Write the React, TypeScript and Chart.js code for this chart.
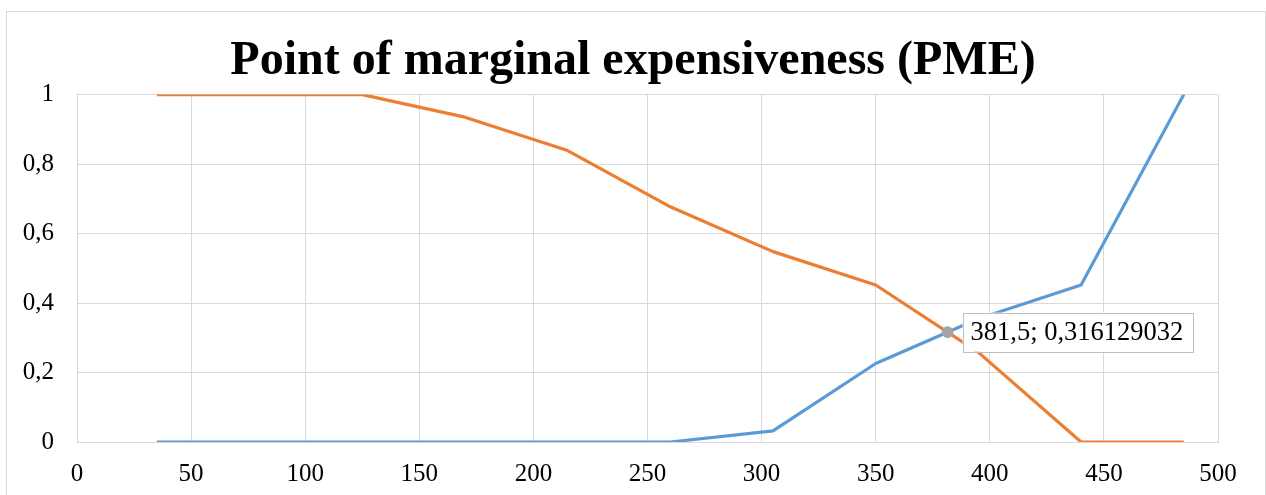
import React, { useEffect, useRef } from "react";
import { Chart, registerables } from "chart.js";

Chart.register(...registerables);

const TITLE = "Point of marginal expensiveness (PME)";
const X_VALUES = [35, 80, 125, 170, 215, 260, 305, 350, 395, 440, 485];
const ORANGE_VALUES = [1, 1, 1, 0.935, 0.839, 0.677, 0.548, 0.452, 0.258, 0, 0];
const BLUE_VALUES = [0, 0, 0, 0, 0, 0, 0.032, 0.226, 0.355, 0.452, 1];
const PME_X = 381.5;
const PME_Y = 0.316129032;
const X_TICKS = [0, 50, 100, 150, 200, 250, 300, 350, 400, 450, 500];
const Y_TICKS = [0, 0.2, 0.4, 0.6, 0.8, 1];

const FONT = '"Liberation Serif", "Times New Roman", serif';
const fmt = (v: number) => String(v).replace(".", ",");

const labelPlugin = {
  id: "pmeLabel",
  afterDatasetsDraw(chart: any) {
    const meta = chart.getDatasetMeta(0);
    const el = meta.data[0];
    if (!el) return;
    const ctx = chart.ctx;
    const text = `${fmt(PME_X)}; ${fmt(PME_Y)}`;
    ctx.save();
    ctx.font = `26.5px ${FONT}`;
    const w = ctx.measureText(text).width + 17;
    const h = 39;
    const bx = el.x + 15;
    const by = el.y - h / 2;
    ctx.fillStyle = "#ffffff";
    ctx.fillRect(bx, by, w, h);
    ctx.strokeStyle = "#BFBFBF";
    ctx.lineWidth = 1;
    ctx.strokeRect(Math.round(bx) + 0.5, Math.round(by) + 0.5, Math.round(w), Math.round(h));
    ctx.fillStyle = "#000000";
    ctx.textBaseline = "middle";
    ctx.textAlign = "left";
    ctx.fillText(text, bx + 8, el.y + 1);
    ctx.restore();
  },
};

export default function App() {
  const ref = useRef<HTMLCanvasElement>(null);
  useEffect(() => {
    if (!ref.current) return;
    const chart = new Chart(ref.current, {
      type: "line",
      data: {
        datasets: [
          {
            type: "scatter",
            label: "PME",
            data: [{ x: PME_X, y: PME_Y }],
            backgroundColor: "#A5A5A5",
            borderColor: "#A5A5A5",
            pointRadius: 5.5,
            showLine: false,
          },
          {
            label: "Too expensive (inverse)",
            data: X_VALUES.map((x, i) => ({ x, y: ORANGE_VALUES[i] })),
            borderColor: "#ED7D31",
            backgroundColor: "#ED7D31",
            borderWidth: 3.2,
            pointRadius: 0,
            tension: 0,
            borderJoinStyle: "round",
          },
          {
            label: "Expensive",
            data: X_VALUES.map((x, i) => ({ x, y: BLUE_VALUES[i] })),
            borderColor: "#5B9BD5",
            backgroundColor: "#5B9BD5",
            borderWidth: 3.2,
            pointRadius: 0,
            tension: 0,
            borderJoinStyle: "round",
          },
        ],
      } as any,
      options: {
        animation: false,
        responsive: false,
        layout: { padding: { left: 0, right: 0, top: 11, bottom: 0 } },
        plugins: {
          legend: { display: false },
          tooltip: { enabled: false },
          title: {
            display: true,
            text: TITLE,
            color: "#000000",
            font: { family: FONT, size: 48, weight: "bold" },
            padding: { top: 22, bottom: 4 },
          },
        },
        scales: {
          x: {
            type: "linear",
            min: 0,
            max: 500,
            afterBuildTicks: (s: any) => {
              s.ticks = X_TICKS.map((v) => ({ value: v }));
            },
            afterFit: (s: any) => {
              s.height = 53;
            },
            grid: { color: "#D9D9D9", lineWidth: 1, drawTicks: false },
            border: { color: "#D9D9D9", width: 1 },
            ticks: {
              color: "#000000",
              padding: 17,
              font: { family: FONT, size: 25 },
              maxRotation: 0,
              callback: (v: any) => fmt(Number(v)),
            },
          },
          y: {
            type: "linear",
            min: 0,
            max: 1,
            afterBuildTicks: (s: any) => {
              s.ticks = Y_TICKS.map((v) => ({ value: v }));
            },
            afterFit: (s: any) => {
              s.width = 77;
            },
            grid: { color: "#D9D9D9", lineWidth: 1, drawTicks: false },
            border: { color: "#D9D9D9", width: 1 },
            ticks: {
              color: "#000000",
              padding: 23,
              font: { family: FONT, size: 25 },
              callback: (v: any) => fmt(Math.round(Number(v) * 10) / 10),
            },
          },
          yRight: {
            type: "linear",
            position: "right",
            min: 0,
            max: 1,
            afterFit: (s: any) => {
              s.width = 48;
            },
            grid: { display: false, drawTicks: false },
            border: { display: false },
            ticks: { display: false },
          },
        },
      } as any,
      plugins: [labelPlugin],
    });
    return () => chart.destroy();
  }, []);

  return (
    <div
      style={{
        position: "fixed",
        left: 0,
        top: 0,
        width: 1266,
        height: 495,
        overflow: "hidden",
        background: "#ffffff",
      }}
    >
      <div
        style={{
          position: "absolute",
          left: 6,
          top: 11,
          width: 1258,
          height: 600,
          border: "1px solid #D9D9D9",
        }}
      />
      <canvas
        ref={ref}
        width={1266}
        height={495}
        style={{ position: "absolute", left: 0, top: 0, width: 1266, height: 495 }}
      />
    </div>
  );
}
